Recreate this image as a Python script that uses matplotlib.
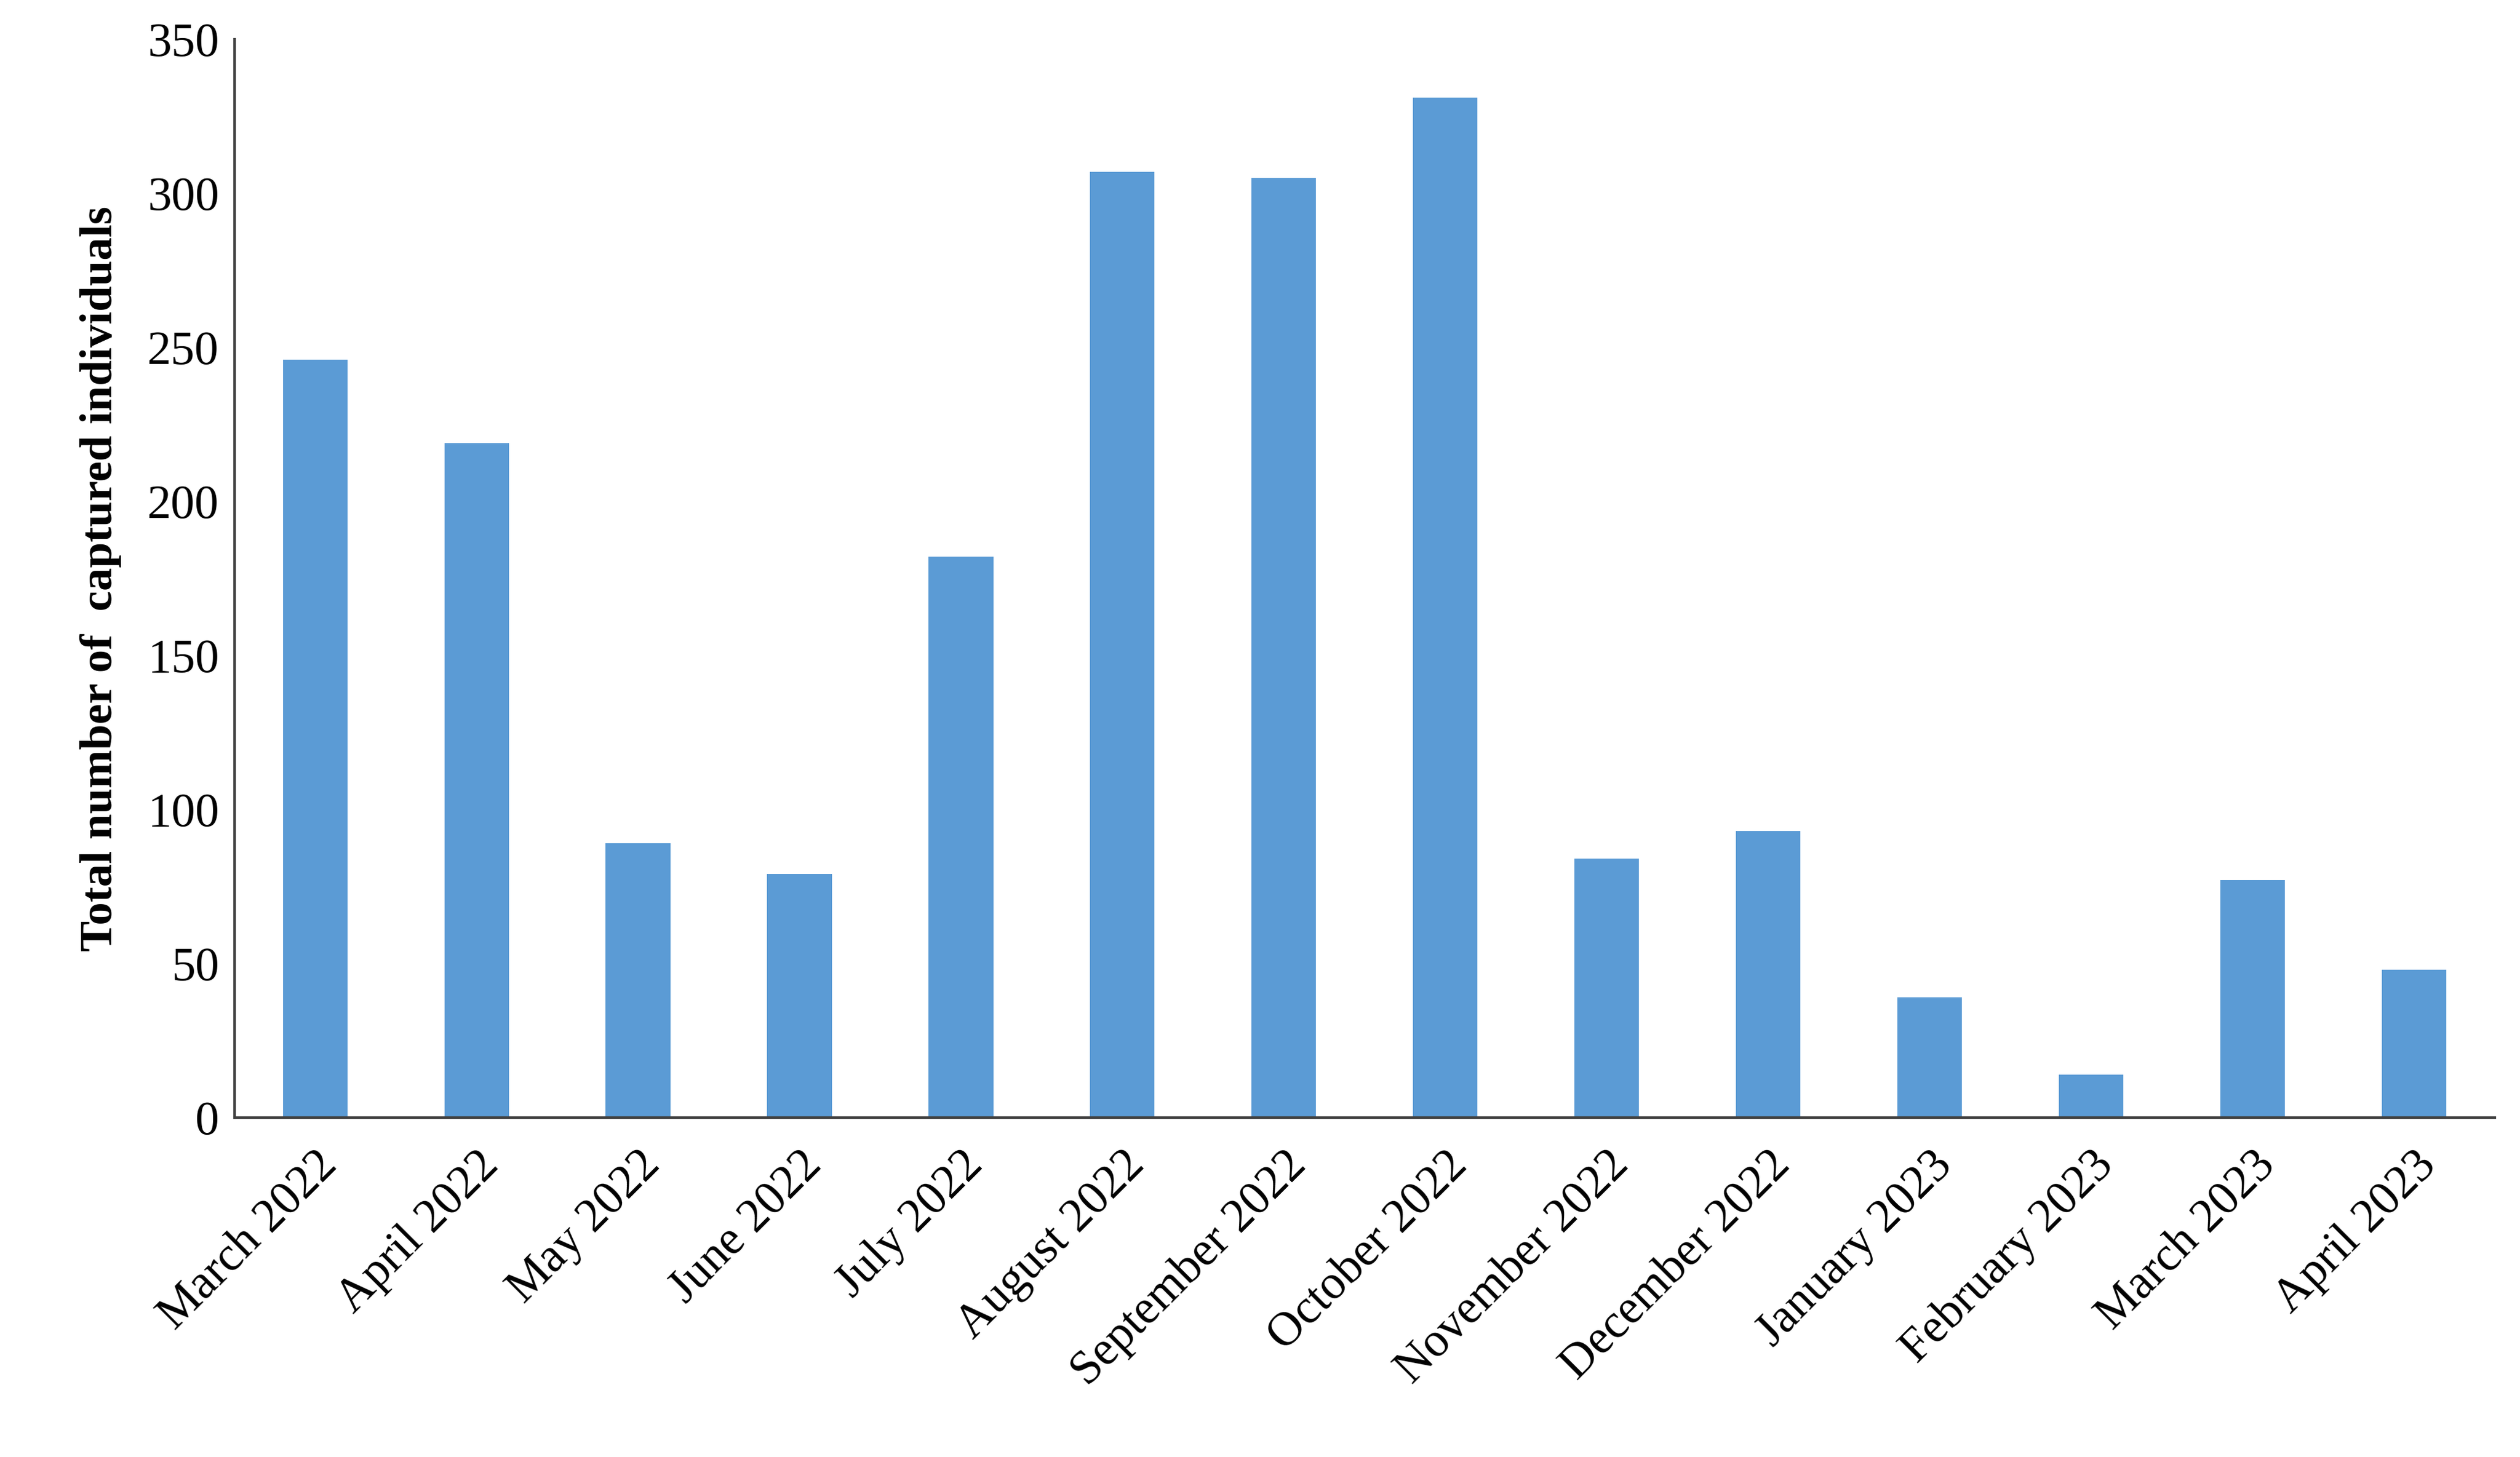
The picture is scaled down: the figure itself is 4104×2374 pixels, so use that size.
import matplotlib
matplotlib.use("Agg")
from matplotlib import pyplot as plt

# Monthly captures
MONTHS = ["March 2022", "April 2022", "May 2022", "June 2022", "July 2022",
          "August 2022", "September 2022", "October 2022", "November 2022",
          "December 2022", "January 2023", "February 2023", "March 2023",
          "April 2023"]
CAPTURED = [246, 219, 89, 79, 182, 307, 305, 331, 84, 93, 39, 14, 77, 48]

plt.rcParams['font.family'] = ['Liberation Serif', 'DejaVu Serif']

fig = plt.figure(figsize=(41.04, 23.74), dpi=100)
ax = fig.add_axes([0.093, 0.233, 0.897, 0.74])

ax.bar(range(len(MONTHS)), CAPTURED, width=0.4, color="#5B9BD5")

ax.set_xlim(-0.5, len(MONTHS) - 0.5)
ax.set_ylim(0, 350)
ax.set_yticks(range(0, 351, 50))
ax.set_xticks(range(len(MONTHS)))
ax.set_xticklabels(MONTHS, rotation=45, ha="right", rotation_mode="anchor")
ax.tick_params(axis="both", labelsize=56, length=0, pad=18)
ax.tick_params(axis="x", pad=30)

ax.set_ylabel("Total number of  captured individuals", fontsize=54,
              fontweight="bold", labelpad=30)

for side in ("top", "right"):
    ax.spines[side].set_visible(False)
for side in ("left", "bottom"):
    ax.spines[side].set_color("#404040")
    ax.spines[side].set_linewidth(3)

fig.savefig("out.png")
